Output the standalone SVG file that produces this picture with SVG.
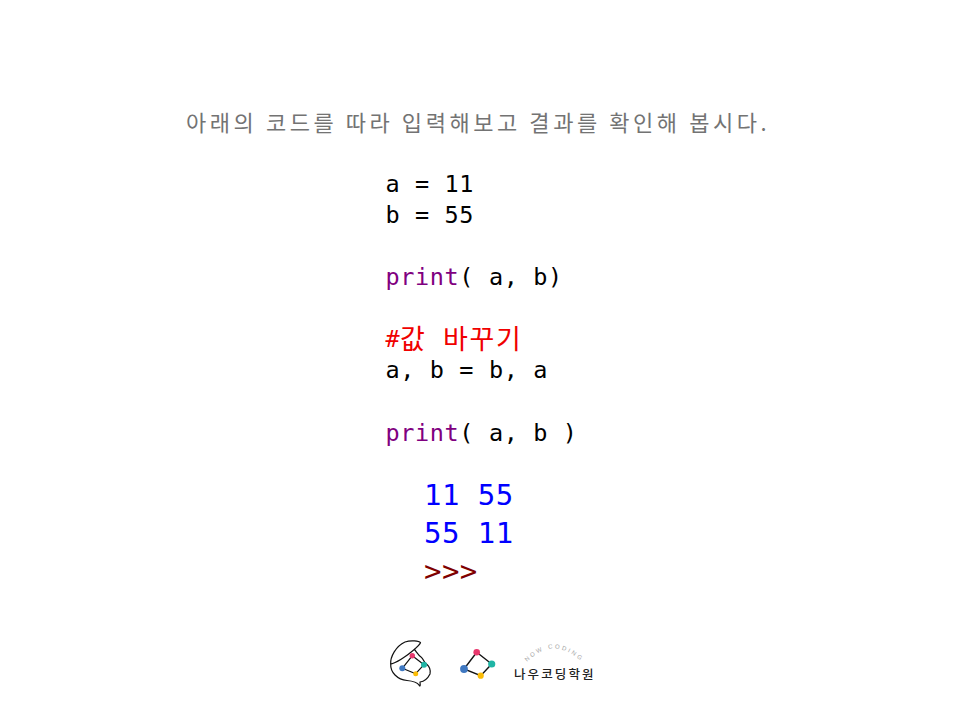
<svg xmlns="http://www.w3.org/2000/svg" width="960" height="720" viewBox="0 0 960 720">
<style>
text{white-space:pre}
.c{font-family:"DejaVu Sans Mono","Noto Sans CJK KR",monospace;font-size:23.5px;letter-spacing:.62px;fill:#000}
.p{fill:#800080}
.o{font-family:"DejaVu Sans Mono",monospace;font-size:29px;letter-spacing:.45px;fill:#0000ff}
.k{font-family:"Noto Sans CJK KR",sans-serif;font-size:27px;font-weight:400;fill:#f00000}
.l{fill:none;stroke:#111;stroke-width:1.2;stroke-linejoin:round}
</style>
<rect width="960" height="720" fill="#fff"/>
<text id="title" x="186" y="131" font-family="'Noto Sans CJK KR',sans-serif" font-size="22" font-weight="400" letter-spacing="3.56" fill="#737373">아래의 코드를 따라 입력해보고 결과를 확인해 봅시다.</text>
<g id="code">
<text class="c" x="385.500" y="192">a = 11</text>
<text class="c" x="385.500" y="223">b = 55</text>
<text class="c" x="385.500" y="285"><tspan class="p">print</tspan>( a, b)</text>
<text class="c" x="385.500" y="347" style="fill:#f00000">#</text>
<text class="k" x="400 443 469.500 496" y="349">값바꾸기</text>
<text class="c" x="385.500" y="378">a, b = b, a</text>
<text class="c" x="385.500" y="441"><tspan class="p">print</tspan>( a, b )</text>
</g>
<g id="output">
<text class="o" x="424" y="505">11 55</text>
<text class="o" x="424" y="543">55 11</text>
<text class="o" x="424" y="581" style="fill:#7f0000" letter-spacing="1">&gt;&gt;&gt;</text>
</g>
<g id="logo-head">
<path class="l" d="M390.700 664.300C390 657 396 646 405 642C411 640 419 641 420.500 642.700C419 646 408 655 403 658C399 661 394 663 390.700 664.300C390.500 669 392 672 395 675C398 678 402 680 407 680.500C412 681 417 682 419 685C420 687 420.500 686 420 682C424 681.500 428 678 430 674C431 670 429 666 427 664.500C423 662 424 659 421 657C418 655 416 651 414 649"/>
<path class="l" d="M412.300 655.700L424 664.700L415.700 673.700L402.300 668.300Z"/>
<circle cx="412.300" cy="655.700" r="2.700" fill="#e8386d"/>
<circle cx="424" cy="664.700" r="3" fill="#1fb5a5"/>
<circle cx="415.700" cy="673.700" r="2.500" fill="#fbbc05"/>
<circle cx="402.300" cy="668.300" r="3" fill="#3f78c1"/>
</g>
<g id="logo-mark">
<path d="M476.700 652.300L491.700 664L480.700 675.700L464 669Z" fill="none" stroke="#111" stroke-width="1.400"/>
<circle cx="476.700" cy="652.300" r="3.300" fill="#e8386d"/>
<circle cx="491.700" cy="664" r="3.600" fill="#1fb5a5"/>
<circle cx="480.700" cy="675.700" r="3.100" fill="#fbbc05"/>
<circle cx="464" cy="669" r="3.900" fill="#3f78c1"/>
</g>
<g id="logo-text">
<path id="arc" d="M527 662Q553 635 582 662" fill="none"/>
<text font-family="'Liberation Sans',sans-serif" font-size="6" letter-spacing="2.200" fill="#a5a5a5"><textPath href="#arc">NOW CODING</textPath></text>
<text x="514" y="679" font-family="'Noto Sans CJK KR',sans-serif" font-size="12.500" font-weight="500" letter-spacing="2.100" fill="#222">나우코딩학원</text>
</g>
</svg>
